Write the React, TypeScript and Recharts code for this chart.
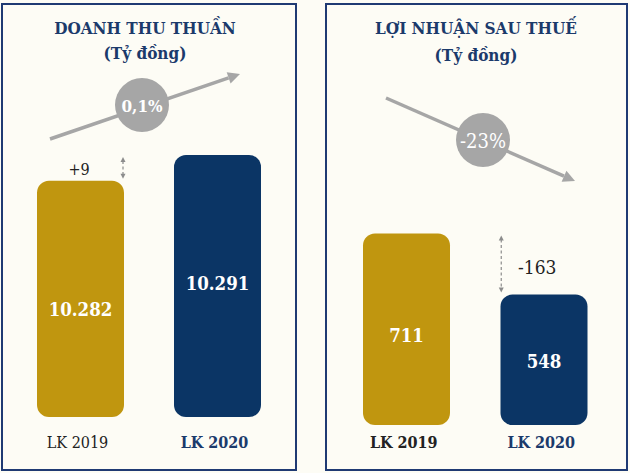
import { BarChart, Bar, XAxis, YAxis, Cell, LabelList, ReferenceLine } from "recharts";

const categories = ["LK 2019", "LK 2020"];
const revenue = [10282, 10291];
const profit = [711, 548];
const revenueTitle = "DOANH THU THUẦN";
const profitTitle = "LỢI NHUẬN SAU THUẾ";
const unitLabel = "(Tỷ đồng)";

const GOLD = "#c0960f";
const NAVY = "#0b3565";
const BORDER = "#1f3a73";
const TITLE = "#1b3a6b";
const GREY = "#a6a6a6";
const BG = "#fdfcf5";
const FONT = "'DejaVu Serif Condensed', 'DejaVu Serif', serif";

const fmtNum = (v: number) => String(v).replace(/\B(?=(\d{3})+(?!\d))/g, ".");
const fmtDiff = (v: number) => (v > 0 ? "+" : "") + fmtNum(v);
const fmtPct = (a: number, b: number) => {
  const p = ((b - a) / a) * 100;
  const r = Math.abs(p) < 1 ? p.toFixed(1) : Math.round(p).toString();
  return r.replace(".", ",") + "%";
};

const revenueData = categories.map((c, i) => ({ name: c, value: revenue[i] }));
const profitData = categories.map((c, i) => ({ name: c, value: profit[i] }));

const makeTick = (baseline: number, weights: string[], colors: string[]) => (props: any) => {
  const { x, y, payload, index } = props;
  return (
    <text x={x - 3} y={y + baseline} textAnchor="middle" fontFamily={FONT} fontSize={16}
      fontWeight={weights[index]} fill={colors[index]}>
      {payload.value}
    </text>
  );
};

const makeValueLabel = (nudge: number[]) => (props: any) => {
  const { x, y, width, height, value, index } = props;
  return (
    <text x={x + width / 2} y={y + height / 2 + nudge[index]} textAnchor="middle" dominantBaseline="central"
      fontFamily={FONT} fontSize={18.5} fontWeight="bold" fill="#fff">
      {fmtNum(value)}
    </text>
  );
};

const makeDiffArrow = (dx: number, label: string, lx: number, ly: number, fs: number) => (props: any) => {
  const { x1, y1, y2 } = props;
  const x = x1 + dx;
  const top = Math.min(y1, y2) + 2;
  const bot = Math.max(y1, y2) - 2;
  return (
    <g>
      <line x1={x} y1={top + 4} x2={x} y2={bot - 4} stroke="#8c8c8c" strokeWidth={1.2} strokeDasharray="3 2.5" />
      <path d={`M${x - 2.5},${top + 5} L${x},${top} L${x + 2.5},${top + 5} Z`} fill="#8c8c8c" />
      <path d={`M${x - 2.5},${bot - 5} L${x},${bot} L${x + 2.5},${bot - 5} Z`} fill="#8c8c8c" />
      <text x={x1 + lx} y={y2 + ly} textAnchor="middle" dominantBaseline="central" fontFamily={FONT}
        fontSize={fs} fill="#222">
        {label}
      </text>
    </g>
  );
};

function TrendArrow({ x1, y1, x2, y2, cx, cy, text, bold }: any) {
  const ang = Math.atan2(y2 - y1, x2 - x1);
  const hl = 12;
  const hw = 6;
  const bx = x2 - hl * Math.cos(ang);
  const by = y2 - hl * Math.sin(ang);
  const px = -Math.sin(ang) * hw;
  const py = Math.cos(ang) * hw;
  return (
    <g>
      <line x1={x1} y1={y1} x2={bx} y2={by} stroke={GREY} strokeWidth={3.5} />
      <path d={`M${x2},${y2} L${bx + px},${by + py} L${bx - px},${by - py} Z`} fill={GREY} />
      <circle cx={cx} cy={cy} r={27} fill={GREY} />
      <text x={cx} y={cy + 1} textAnchor="middle" dominantBaseline="central" fontFamily={FONT}
        fontSize={bold ? 17 : 20} fontWeight={bold ? "bold" : "normal"} fill="#fff">
        {text}
      </text>
    </g>
  );
}

export default function App() {
  const revDiff = revenue[1] - revenue[0];
  const profDiff = profit[1] - profit[0];
  return (
    <div style={{ position: "absolute", left: 0, top: 0, width: 630, height: 473, background: BG, overflow: "hidden" }}>
      <div style={{ position: "absolute", left: 1, top: 3, width: 296, height: 468, border: `2px solid ${BORDER}`, boxSizing: "border-box" }} />
      <div style={{ position: "absolute", left: 325, top: 3, width: 303, height: 468, border: `2px solid ${BORDER}`, boxSizing: "border-box" }} />

      <div style={{ position: "absolute", left: 0, top: 0 }}>
        <BarChart width={300} height={473} data={revenueData} margin={{ top: 129, right: 14, left: 12, bottom: 0 }}>
          <XAxis dataKey="name" axisLine={false} tickLine={false} tickSize={0} tickMargin={0} height={56} interval={0}
            tick={makeTick(31, ["normal", "bold"], ["#222", TITLE])} />
          <YAxis hide type="number" domain={[10200, 10300]} />
          <Bar dataKey="value" barSize={87} radius={12} isAnimationActive={false}>
            {revenueData.map((d, i) => (
              <Cell key={d.name} fill={i === 0 ? GOLD : NAVY} />
            ))}
            <LabelList dataKey="value" content={makeValueLabel([11, -2])} />
          </Bar>
          <ReferenceLine segment={[{ x: categories[0], y: revenue[1] }, { x: categories[0], y: revenue[0] }]}
            ifOverflow="visible" shape={makeDiffArrow(42.5, fmtDiff(revDiff), -1.5, -11, 16)} />
        </BarChart>
      </div>

      <div style={{ position: "absolute", left: 325, top: 0 }}>
        <BarChart width={300} height={473} data={profitData} margin={{ top: 200, right: 12, left: 13, bottom: 0 }}>
          <XAxis dataKey="name" axisLine={false} tickLine={false} tickSize={0} tickMargin={0} height={48} interval={0}
            tick={makeTick(23, ["bold", "bold"], ["#222", TITLE])} />
          <YAxis hide type="number" domain={[200, 800]} />
          <Bar dataKey="value" barSize={87} radius={12} isAnimationActive={false}>
            {profitData.map((d, i) => (
              <Cell key={d.name} fill={i === 0 ? GOLD : NAVY} />
            ))}
            <LabelList dataKey="value" content={makeValueLabel([6, 2])} />
          </Bar>
          <ReferenceLine segment={[{ x: categories[1], y: profit[0] }, { x: categories[1], y: profit[1] }]}
            ifOverflow="visible" shape={makeDiffArrow(-43, fmtDiff(profDiff), -7, -28, 19)} />
        </BarChart>
      </div>

      <svg width={630} height={473} style={{ position: "absolute", left: 0, top: 0, pointerEvents: "none" }}>
        <g fontFamily={FONT} fontWeight="bold" fill={TITLE} fontSize={17} textAnchor="middle">
          <text x={145} y={34}>{revenueTitle}</text>
          <text x={145} y={59}>{unitLabel}</text>
          <text x={476} y={34}>{profitTitle}</text>
          <text x={476} y={61}>{unitLabel}</text>
        </g>
        <TrendArrow x1={50} y1={139} x2={240} y2={74} cx={142} cy={105} text={fmtPct(revenue[0], revenue[1])} bold />
        <TrendArrow x1={386} y1={98} x2={575} y2={181} cx={483} cy={140} text={fmtPct(profit[0], profit[1])} />
      </svg>
    </div>
  );
}
